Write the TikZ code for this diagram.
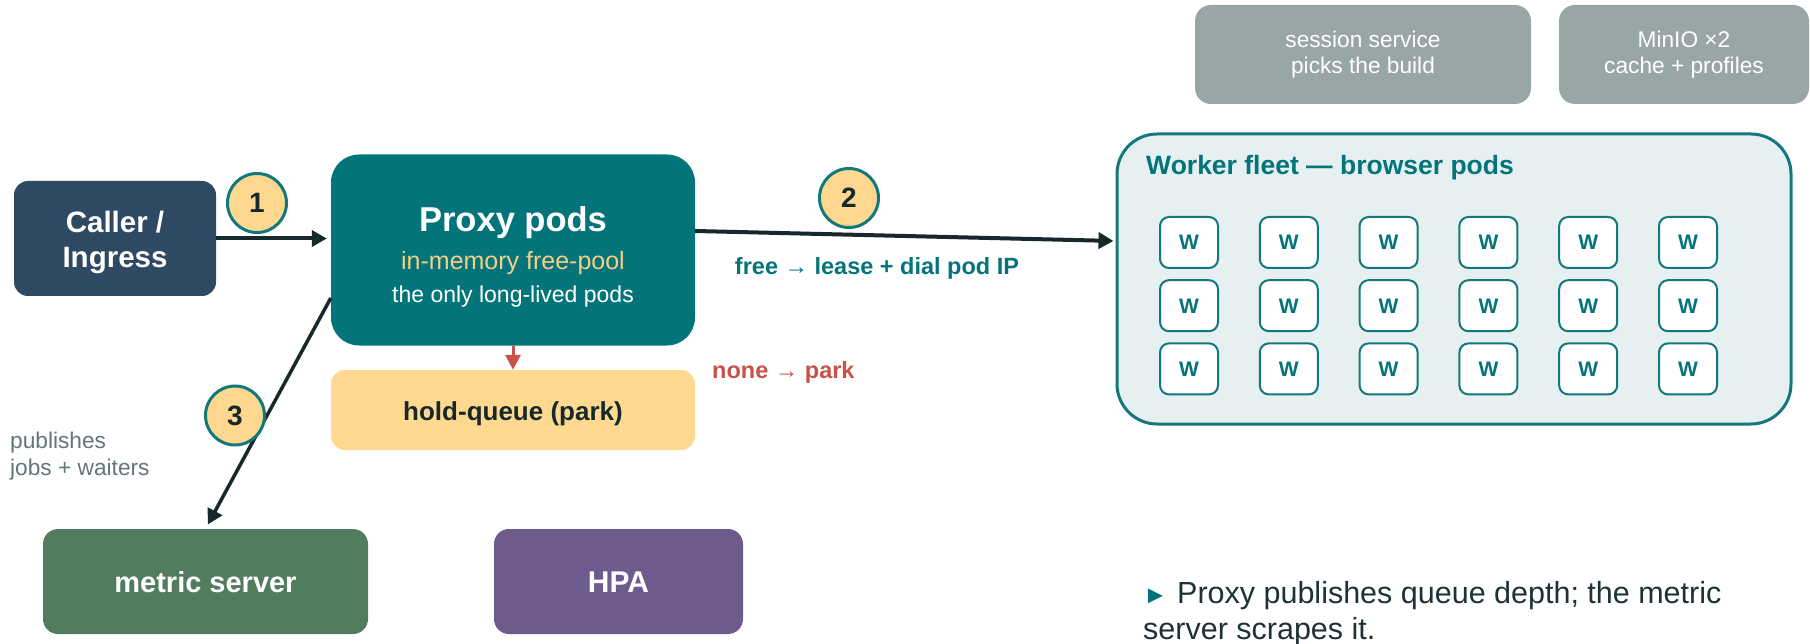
\documentclass[tikz,border=0pt]{standalone}
\usepackage{fontspec}
\setmainfont{Liberation Sans}
\usetikzlibrary{arrows.meta,calc}

\definecolor{callerblue}{HTML}{2E4A62}
\definecolor{proxyteal}{HTML}{03747A}
\definecolor{ringteal}{HTML}{12787C}
\definecolor{badge}{HTML}{FDD88E}
\definecolor{queuefill}{HTML}{FED98F}
\definecolor{ink}{HTML}{17282B}
\definecolor{parkred}{HTML}{C8524A}
\definecolor{metricgreen}{HTML}{517D5E}
\definecolor{hpapurple}{HTML}{6E5A8C}
\definecolor{svcgray}{HTML}{99A6A6}
\definecolor{fleetfill}{HTML}{E6F0F0}
\definecolor{notegray}{HTML}{65737A}
\definecolor{poolyellow}{HTML}{F5CF86}
\definecolor{bodyink}{HTML}{1E3236}

\newcommand{\fsz}[1]{\fontsize{#1}{1.2\dimexpr#1pt\relax}\selectfont}

\begin{document}
\begin{tikzpicture}[x=1pt,y=-1pt,
  panel/.style={rectangle, inner sep=0pt, align=center},
  badgering/.style={circle, minimum size=59pt, inner sep=0pt, draw=ringteal,
    line width=3pt, fill=badge, text=ink, font=\bfseries\fsz{28}},
  workerbox/.style={rectangle, rounded corners=9pt, minimum width=58pt,
    minimum height=51pt, inner sep=0pt, draw=ringteal, line width=2pt,
    fill=white, text=proxyteal, font=\bfseries\fsz{21}, text height=15pt, text depth=0pt},
  flowarrow/.style={draw=ink, line width=4pt,
    -{Triangle[length=15pt,width=16pt]}},
  txt/.style={inner sep=0pt}]

\useasboundingbox (0,0) rectangle (1810,644);

% main boxes
\node[panel, rounded corners=14pt, fill=callerblue, minimum width=202pt,
  minimum height=115pt] (caller) at (115,238.5) {};
\node[txt, align=center, text=white, font=\bfseries\fontsize{29.5}{34.5}\selectfont]
  (callertext) at ($(caller.center)+(0,4)$) {Caller /\\Ingress};
\node[panel, rounded corners=28pt, fill=proxyteal, minimum width=364pt,
  minimum height=191pt] (proxy) at (513,250) {};
\node[txt, anchor=base, text=white, font=\bfseries\fsz{34.5}] (proxytitle)
  at (513,232) {Proxy pods};
\node[txt, anchor=base, text=poolyellow, font=\fsz{25}] (proxypool)
  at (513,270) {in-memory free-pool};
\node[txt, anchor=base, text=white, font=\fsz{23}] (proxynote)
  at (513,303) {the only long-lived pods};
\node[panel, rounded corners=14pt, fill=queuefill, minimum width=364pt,
  minimum height=80pt, text=ink, font=\bfseries\fsz{26}, text height=20pt, text depth=0pt]
  (hold) at (513,410) {hold-queue (park)};
\node[panel, rounded corners=15pt, fill=metricgreen, minimum width=325pt,
  minimum height=105pt, text=white, font=\bfseries\fsz{29}, text height=22pt, text depth=0pt]
  (metric) at (205.5,581.5) {metric server};
\node[panel, rounded corners=15pt, fill=hpapurple, minimum width=249pt,
  minimum height=105pt, text=white, font=\bfseries\fsz{30}, text height=22pt, text depth=0pt]
  (hpa) at (618.5,581.5) {HPA};

% supporting services
\node[panel, rounded corners=16pt, fill=svcgray, minimum width=336pt,
  minimum height=99pt, text=white, font=\fontsize{22.7}{26}\selectfont]
  (session) at (1363,54.5) {session service\\picks the build};
\node[panel, rounded corners=16pt, fill=svcgray, minimum width=250pt,
  minimum height=99pt, text=white, font=\fontsize{22.7}{26}\selectfont]
  (minio) at (1684,54.5) {MinIO ×2\\cache + profiles};

% worker fleet
\node[panel, rounded corners=40pt, fill=fleetfill, draw=ringteal, line width=3pt,
  minimum width=674pt, minimum height=290pt] (fleet) at (1454,279) {};
\node[txt, anchor=base west, text=proxyteal, font=\bfseries\fsz{26.5}]
  (fleettitle) at (1146,175) {Worker fleet — browser pods};
\foreach \c in {0,...,5}{
  \foreach \r in {0,1,2}{
    \node[workerbox] (w\r\c) at ({1189+99.8*\c},{242.5+63.2*\r}) {W};
  }
}

% connectors
\draw[flowarrow, shorten >=4pt] (caller.east) -- (proxy.west |- caller.east);
\draw[flowarrow, shorten >=2pt] (proxy.east |- 0,231) -- (fleet.west |- 0,241);
\draw[flowarrow, line width=3.5pt, shorten >=5pt] (proxy.west |- 0,298) -- (metric.north);
\draw[draw=parkred, line width=3pt, -{Triangle[length=15pt,width=15pt]}]
  (proxy.south) -- (hold.north);

% step badges
\node[badgering] (c1) at (257,203) {1};
\node[badgering] (c2) at (849,198) {2};
\node[badgering] (c3) at (235,415.5) {3};

% labels
\node[txt, anchor=base, text=proxyteal, font=\bfseries\fsz{23.5}] (leaselbl)
  at (877,275) {free → lease + dial pod IP};
\node[txt, anchor=base west, text=parkred, font=\bfseries\fsz{23.5}] (parklbl)
  at (712,378) {none → park};
\node[txt, anchor=north west, text=notegray, align=left,
  font=\fontsize{22.7}{27}\selectfont] (publbl) at (10,432)
  {publishes\\jobs + waiters};

% note
\node[txt, anchor=base west, text=bodyink, font=\fsz{30.5}] (note1) at (1143,603)
  {\makebox[34pt][l]{\color{proxyteal}\fsz{25}►}Proxy publishes queue depth; the metric};
\node[txt, anchor=base west, text=bodyink, font=\fsz{30.5}] (note2) at (1143,639)
  {server scrapes it.};
\end{tikzpicture}
\end{document}
